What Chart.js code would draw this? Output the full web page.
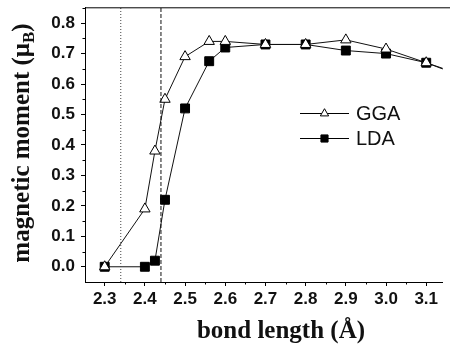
<!DOCTYPE html>
<html><head><meta charset="utf-8">
<script src="https://cdn.jsdelivr.net/npm/chart.js@4/dist/chart.umd.min.js"></script>
<style>html,body{margin:0;padding:0;background:#fff;overflow:hidden}canvas{display:block}</style>
</head><body>
<canvas id="c" width="450" height="345"></canvas>
<script>
// ---- data ----
const bondLength = [2.30, 2.40, 2.425, 2.45, 2.50, 2.56, 2.60, 2.70, 2.80, 2.90, 3.00, 3.10, 3.20];
const ggaMoment  = [0.00, 0.19, 0.38, 0.55, 0.69, 0.74, 0.74, 0.73, 0.73, 0.745, 0.715, 0.67, 0.625];
const ldaMoment  = [0.00, 0.00, 0.02, 0.22, 0.52, 0.675, 0.72, 0.73, 0.73, 0.71, 0.70, 0.67, 0.62];
const xTickValues = [2.3, 2.4, 2.5, 2.6, 2.7, 2.8, 2.9, 3.0, 3.1];
const yTickValues = [0.0, 0.1, 0.2, 0.3, 0.4, 0.5, 0.6, 0.7, 0.8];
const dottedLineX = 2.34;
const dashedLineX = 2.44;
const seriesNames = ['GGA', 'LDA'];
const xTitle = 'bond length (Å)';
const yTitleMain = 'magnetic moment (μ';
const yTitleSub = 'B';
const yTitleEnd = ')';

const X_MIN = 2.251, X_MAX = 3.141, Y_MIN = -0.05, Y_MAX = 0.852;

const pts = (xs, ys) => xs.map((x, i) => ({x, y: ys[i]}));
const vline = x => [{x, y: Y_MIN}, {x, y: Y_MAX}];

const ggaStyle = {pointStyle: 'triangle', radius: 6, borderWidth: 1, borderColor: '#000', backgroundColor: '#fff'};
const ldaStyle = {pointStyle: 'rect', radius: 6.3, borderWidth: 1, borderColor: '#000', backgroundColor: '#000'};

const decor = {
  id: 'decor',
  afterDraw(chart) {
    const ctx = chart.ctx, a = chart.chartArea;
    const xs = chart.scales.x, ys = chart.scales.y;
    ctx.save();
    // top frame
    ctx.strokeStyle = '#000'; ctx.lineWidth = 1;
    ctx.beginPath(); ctx.moveTo(a.left, a.top + 0.5); ctx.lineTo(chart.width, a.top + 0.5); ctx.stroke();
    // minor ticks
    ctx.beginPath();
    for (let i = 0; i < xTickValues.length; i++) {
      const v = xTickValues[i] + 0.05;
      if (v < X_MAX) { const px = Math.round(xs.getPixelForValue(v)) + 0.5; ctx.moveTo(px, a.bottom); ctx.lineTo(px, a.bottom + 2.5); }
    }
    const v0 = xTickValues[0] - 0.05;
    if (v0 > X_MIN) { const px = Math.round(xs.getPixelForValue(v0)) + 0.5; ctx.moveTo(px, a.bottom); ctx.lineTo(px, a.bottom + 2.5); }
    for (let i = 0; i < yTickValues.length; i++) {
      const v = yTickValues[i] + 0.05;
      if (v < Y_MAX) { const py = Math.round(ys.getPixelForValue(v)) + 0.5; ctx.moveTo(a.left, py); ctx.lineTo(a.left - 2.5, py); }
    }
    ctx.stroke();

    // legend
    const legendRows = [[seriesNames[0], ggaStyle, 113], [seriesNames[1], ldaStyle, 138]];
    ctx.font = '20px "Liberation Sans", Arial, sans-serif';
    ctx.textBaseline = 'middle'; ctx.textAlign = 'left';
    legendRows.forEach(([name, st, y]) => {
      ctx.strokeStyle = '#000'; ctx.lineWidth = 1;
      ctx.beginPath(); ctx.moveTo(300, y + 0.5); ctx.lineTo(349, y + 0.5); ctx.stroke();
      ctx.fillStyle = st.backgroundColor; ctx.strokeStyle = st.borderColor; ctx.lineWidth = 1;
      Chart.helpers.drawPoint(ctx, {pointStyle: st.pointStyle, radius: st.radius * 0.8, borderWidth: 1, rotation: 0}, 324.5, y + 0.5);
      ctx.fillStyle = '#111';
      ctx.fillText(name, 356, y + 1);
    });

    // x title
    ctx.fillStyle = '#111';
    ctx.font = 'bold 25px "Liberation Serif", "Times New Roman", serif';
    ctx.textAlign = 'center'; ctx.textBaseline = 'alphabetic';
    ctx.fillText(xTitle, 281, 338);

    // y title with subscript
    ctx.translate(29, 143); ctx.rotate(-Math.PI / 2);
    const fMain = 'bold 25px "Liberation Serif", "Times New Roman", serif';
    const fSub = 'bold 17px "Liberation Serif", "Times New Roman", serif';
    ctx.font = fMain; const w1 = ctx.measureText(yTitleMain).width; const w3 = ctx.measureText(yTitleEnd).width;
    ctx.font = fSub; const w2 = ctx.measureText(yTitleSub).width;
    let x0 = -(w1 + w2 + w3) / 2;
    ctx.textAlign = 'left';
    ctx.font = fMain; ctx.fillText(yTitleMain, x0, 0);
    ctx.font = fSub; ctx.fillText(yTitleSub, x0 + w1, 5);
    ctx.font = fMain; ctx.fillText(yTitleEnd, x0 + w1 + w2, 0);
    ctx.restore();
  }
};

const tickFont = {family: '"Liberation Sans", Arial, sans-serif', size: 17, weight: 'bold'};
const zeroPad = s => { s.paddingTop = 0; s.paddingBottom = 0; s.paddingLeft = 0; s.paddingRight = 0; };

new Chart(document.getElementById('c'), {
  type: 'line',
  data: {
    datasets: [
      {label: 'dotted', data: vline(dottedLineX), borderColor: '#444', borderWidth: 1, borderDash: [1, 2], pointRadius: 0, fill: false},
      {label: 'dashed', data: vline(dashedLineX), borderColor: '#111', borderWidth: 1, borderDash: [4, 2], pointRadius: 0, fill: false},
      {label: seriesNames[0], data: pts(bondLength, ggaMoment), borderColor: '#111', borderWidth: 1, tension: 0,
       pointStyle: ggaStyle.pointStyle, pointRadius: ggaStyle.radius, pointBorderWidth: 1, pointBorderColor: '#000', pointBackgroundColor: '#fff'},
      {label: seriesNames[1], data: pts(bondLength, ldaMoment), borderColor: '#111', borderWidth: 1, tension: 0,
       pointStyle: ldaStyle.pointStyle, pointRadius: ldaStyle.radius, pointBorderWidth: 1, pointBorderColor: '#000', pointBackgroundColor: '#000'}
    ]
  },
  options: {
    responsive: false, animation: false, devicePixelRatio: 1,
    layout: {padding: {top: 6, left: 0, right: 0, bottom: 0}},
    plugins: {legend: {display: false}, tooltip: {enabled: false}},
    scales: {
      x: {type: 'linear', min: X_MIN, max: X_MAX,
        afterBuildTicks: s => { s.ticks = xTickValues.map(v => ({value: v})); },
        afterFit: s => { s.height = 63; zeroPad(s); },
        ticks: {font: tickFont, color: '#111', padding: 3, autoSkip: false, maxRotation: 0, callback: v => Number(v).toFixed(1)},
        grid: {drawOnChartArea: false, tickLength: 4, tickColor: '#000'},
        border: {color: '#000', width: 1}},
      y: {type: 'linear', min: Y_MIN, max: Y_MAX,
        afterBuildTicks: s => { s.ticks = yTickValues.map(v => ({value: v})); },
        afterFit: s => { s.width = 85; zeroPad(s); },
        ticks: {font: tickFont, color: '#111', padding: 6, autoSkip: false, callback: v => Number(v).toFixed(1)},
        grid: {drawOnChartArea: false, tickLength: 4, tickColor: '#000'},
        border: {color: '#000', width: 1}}
    }
  },
  plugins: [decor]
});
</script>
</body></html>
